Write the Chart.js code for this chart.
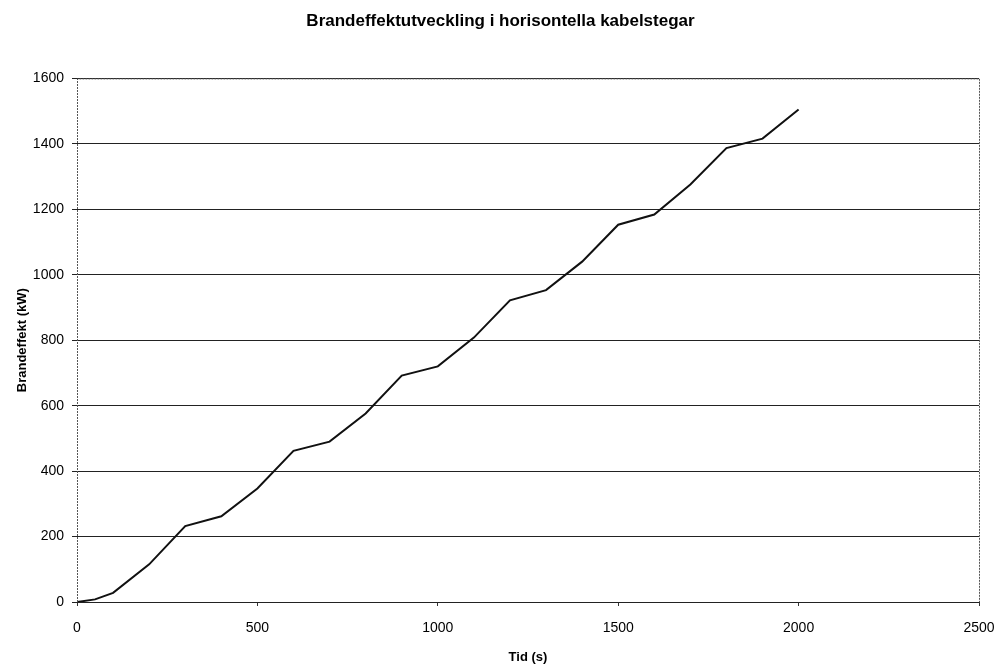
<!DOCTYPE html>
<html>
<head>
<meta charset="utf-8">
<script src="https://cdn.jsdelivr.net/npm/chart.js@4"></script>
<style>
  html, body { margin: 0; padding: 0; background: #fff; }
  #wrap { width: 1001px; height: 665px; }
</style>
</head>
<body>
<div id="wrap"><canvas id="myChart" width="1001" height="665"></canvas></div>
<script>
const tid = [0, 50, 100, 200, 300, 400, 500, 600, 700, 800, 900, 1000,
             1100, 1200, 1300, 1400, 1500, 1600, 1700, 1800, 1900, 2000];
const brandeffekt = [0, 8, 28, 115, 232, 262, 347, 462, 490, 576, 692, 720,
                     808, 922, 953, 1040, 1153, 1184, 1276, 1387, 1416, 1505];
const xTicks = [0, 500, 1000, 1500, 2000, 2500];
const yTicks = [0, 200, 400, 600, 800, 1000, 1200, 1400, 1600];

const fontFam = "'Liberation Sans', Arial, sans-serif";

// dotted frame on left, top and right of the plot
const ramPlugin = {
    id: 'ram',
    afterDraw(chart) {
        const a = chart.chartArea;
        const ctx = chart.ctx;
        ctx.save();
        ctx.strokeStyle = '#555';
        ctx.lineWidth = 1;
        ctx.setLineDash([2, 1]);
        ctx.beginPath();
        ctx.moveTo(a.left + 0.5, a.bottom);
        ctx.lineTo(a.left + 0.5, a.top + 0.5);
        ctx.lineTo(a.right + 0.5, a.top + 0.5);
        ctx.lineTo(a.right + 0.5, a.bottom);
        ctx.stroke();
        ctx.restore();
    }
};

function inicio() {
    const canva = document.getElementById('myChart');

    const datos = {
        datasets: [{
            label: 'Brandeffekt',
            data: tid.map((t, i) => ({ x: t, y: brandeffekt[i] })),
            borderColor: '#111',
            borderWidth: 2,
            pointRadius: 0,
            showLine: true,
            tension: 0,
            fill: false
        }]
    };

    new Chart(canva, {
        type: 'scatter',
        data: datos,
        plugins: [ramPlugin],
        options: {
            responsive: false,
            animation: false,
            events: [],
            layout: { padding: 0 },
            plugins: {
                legend: { display: false },
                tooltip: { enabled: false },
                title: {
                    display: true,
                    text: 'Brandeffektutveckling i horisontella kabelstegar',
                    color: '#000',
                    font: { family: fontFam, size: 17, weight: 'bold' },
                    padding: { top: 11, bottom: 47 }
                }
            },
            scales: {
                x: {
                    type: 'linear',
                    position: 'bottom',
                    min: 0,
                    max: 2500,
                    afterBuildTicks: s => { s.ticks = xTicks.map(v => ({ value: v })); },
                    afterFit: s => { s.height = 63; s.paddingLeft = 0; s.paddingRight = 0; },
                    grid: { drawOnChartArea: false, drawTicks: true, tickLength: 4, color: '#333' },
                    border: { display: false },
                    ticks: {
                        color: '#000', padding: 14, maxRotation: 0,
                        font: { family: fontFam, size: 14 },
                        callback: v => String(v)
                    },
                    title: {
                        display: true,
                        text: 'Tid (s)',
                        color: '#000',
                        font: { family: fontFam, size: 13, weight: 'bold' },
                        padding: { top: 0, bottom: 0 }
                    }
                },
                y: {
                    min: 0,
                    max: 1600,
                    afterBuildTicks: s => { s.ticks = yTicks.map(v => ({ value: v })); },
                    afterFit: s => { s.width = 77; },
                    grid: { color: '#222', lineWidth: 1, tickLength: 5 },
                    border: { display: false },
                    ticks: {
                        color: '#000', padding: 8,
                        font: { family: fontFam, size: 14 },
                        callback: v => String(v)
                    },
                    title: {
                        display: true,
                        text: 'Brandeffekt (kW)',
                        color: '#000',
                        font: { family: fontFam, size: 13, weight: 'bold' },
                        padding: { top: 15, bottom: 0 }
                    }
                },
                // empty spacer on the right so the title stays centred on the page
                hoger: {
                    position: 'right',
                    display: true,
                    grid: { display: false },
                    border: { display: false },
                    ticks: { display: false },
                    afterFit: s => { s.width = 22; }
                }
            }
        }
    });
}

inicio();
</script>
</body>
</html>
